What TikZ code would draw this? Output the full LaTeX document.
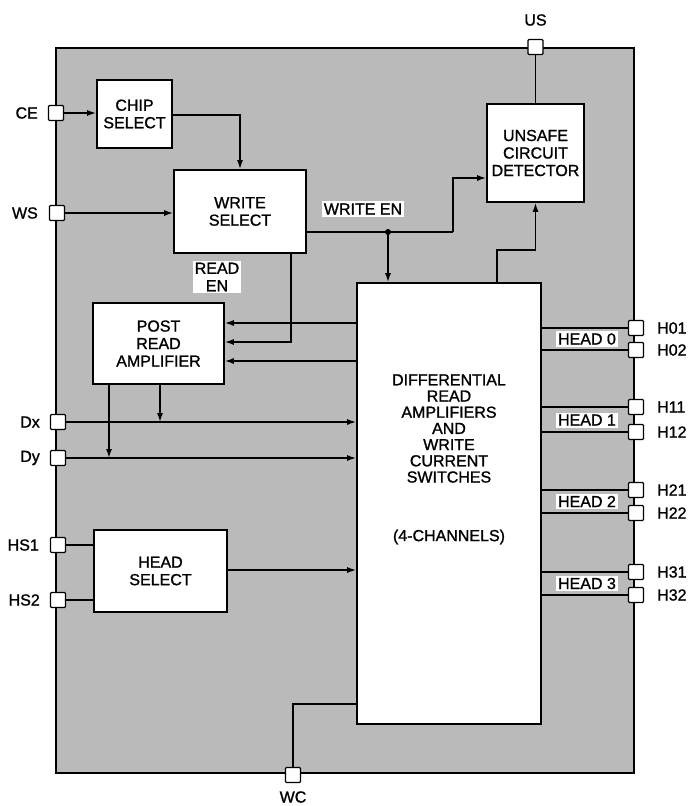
\documentclass[tikz,border=0pt]{standalone}
\usepackage{fontspec}
\setmainfont[FakeBold=1.2]{Liberation Sans}
\usetikzlibrary{arrows.meta}
\begin{document}
\begin{tikzpicture}[x=1pt,y=-1pt,
  every node/.style={font=\fontsize{16}{17.5}\selectfont, align=center},
  blk/.style={draw, line width=1.6pt, fill=white, inner sep=0pt},
  pin/.style={draw, line width=1.3pt, fill=white, minimum size=15pt, inner sep=0pt, rounded corners=1pt},
  wire/.style={line width=1.5pt},
  arr/.style={wire, -{Latex[length=9pt,width=6pt]}},
  lbl/.style={fill=white, inner sep=2pt},
  plab/.style={inner sep=0pt}
]
\useasboundingbox (0,0) rectangle (688,806);
\fill[white] (0,0) rectangle (688,806);
% frame
\draw[line width=1.6pt, fill=black!27] (56,48) rectangle (634,773);

% blocks
\node[blk, minimum width=75pt, minimum height=68pt] (chip) at (134.5,114) {CHIP\\SELECT};
\node[blk, minimum width=132pt, minimum height=83pt] (wsel) at (240,211.5) {WRITE\\SELECT};
\node[blk, minimum width=97pt, minimum height=98pt] (ucd) at (535.5,153) {UNSAFE\\CIRCUIT\\DETECTOR};
\node[blk, minimum width=131pt, minimum height=81pt] (pra) at (158.5,343.5) {POST\\READ\\AMPLIFIER};
\node[blk, minimum width=133pt, minimum height=82pt] (hsel) at (160.5,571) {HEAD\\SELECT};
\node[blk, minimum width=184pt, minimum height=441pt] (diff) at (449,503.5) {};
\node[font=\fontsize{16}{16.2}\selectfont] (difftxt) at (449,428.5) {DIFFERENTIAL\\READ\\AMPLIFIERS\\AND\\WRITE\\CURRENT\\SWITCHES};
\node (diffch) at (449,537) {(4-CHANNELS)};

% pins
\node[pin] (CE) at (56,113) {};
\node[pin] (WS) at (57,213) {};
\node[pin] (Dx) at (58,422) {};
\node[pin] (Dy) at (58,458) {};
\node[pin] (HS1) at (58,545) {};
\node[pin] (HS2) at (58,600) {};
\node[pin] (US) at (535.5,47) {};
\node[pin] (WC) at (293,775) {};
\node[pin] (H01) at (636,328) {};
\node[pin] (H02) at (636,350) {};
\node[pin] (H11) at (636,407) {};
\node[pin] (H12) at (636,432) {};
\node[pin] (H21) at (636,490) {};
\node[pin] (H22) at (636,513) {};
\node[pin] (H31) at (636,572) {};
\node[pin] (H32) at (636,595) {};

% pin labels
\node[plab, anchor=east] (lCE) at (38,113) {CE};
\node[plab, anchor=east] (lWS) at (38,213) {WS};
\node[plab, anchor=east] (lDx) at (40,422) {Dx};
\node[plab, anchor=east] (lDy) at (40,458) {Dy};
\node[plab, anchor=east] (lHS1) at (39,545) {HS1};
\node[plab, anchor=east] (lHS2) at (40,600) {HS2};
\node[plab] (lUS) at (535.5,20) {US};
\node[plab] (lWC) at (293,797) {WC};
\foreach \p/\yy in {H01/328,H02/350,H11/407,H12/432,H21/490,H22/513,H31/572,H32/595}
  \node[plab, anchor=west] (l\p) at (657,\yy) {\p};

% coordinates
\coordinate (wen) at (388,232);
\coordinate (wturn) at (453,232);
\coordinate (ren) at (291,342);
\coordinate (utap) at (497,250);
\coordinate (wcturn) at (293,704);

% connectors
\draw[arr] (CE.east) -- (CE -| chip.west);
\draw[arr] (chip.east |- 0,115) -| (wsel.north);
\draw[arr] (WS.east) -- (WS -| wsel.west);
\draw[wire] (wsel.east |- wen) -- (wturn);
\draw[arr] (wturn) |- (ucd.west |- 0,178);
\fill (wen) circle (3pt);
\draw[arr] (wen) -- (wen |- diff.north);
\draw[arr] (utap |- diff.north) |- (ucd.south |- utap) -- (ucd.south);
\draw[wire] (ucd.north) -- (US.south);
\draw[arr] (ren |- wsel.south) |- (pra.east |- ren);
\draw[arr] (diff.west |- 0,323) -- (pra.east |- 0,323);
\draw[arr] (diff.west |- 0,361) -- (pra.east |- 0,361);
\draw[arr] (Dx.east) -- (Dx -| diff.west);
\draw[arr] (Dy.east) -- (Dy -| diff.west);
\draw[arr] (pra.south -| 160,0) -- (160,422);
\draw[arr] (pra.south -| 109,0) -- (109,458);
\draw[wire] (HS1.east) -- (HS1 -| hsel.west);
\draw[wire] (HS2.east) -- (HS2 -| hsel.west);
\draw[arr] (hsel.east |- 0,570) -- (diff.west |- 0,570);
\draw[wire] (WC.north) |- (diff.west |- wcturn);
\foreach \p in {H01,H02,H11,H12,H21,H22,H31,H32}
  \draw[wire] (diff.east |- \p) -- (\p.west);

% labels
\node[lbl] (readen) at (217,277) {READ\\EN};
\node[lbl] (writeen) at (363,209) {WRITE EN};
\node[lbl] (hd0) at (587,339) {HEAD 0};
\node[lbl] (hd1) at (587,420) {HEAD 1};
\node[lbl] (hd2) at (587,501.5) {HEAD 2};
\node[lbl] (hd3) at (587,583.5) {HEAD 3};
\end{tikzpicture}
\end{document}
